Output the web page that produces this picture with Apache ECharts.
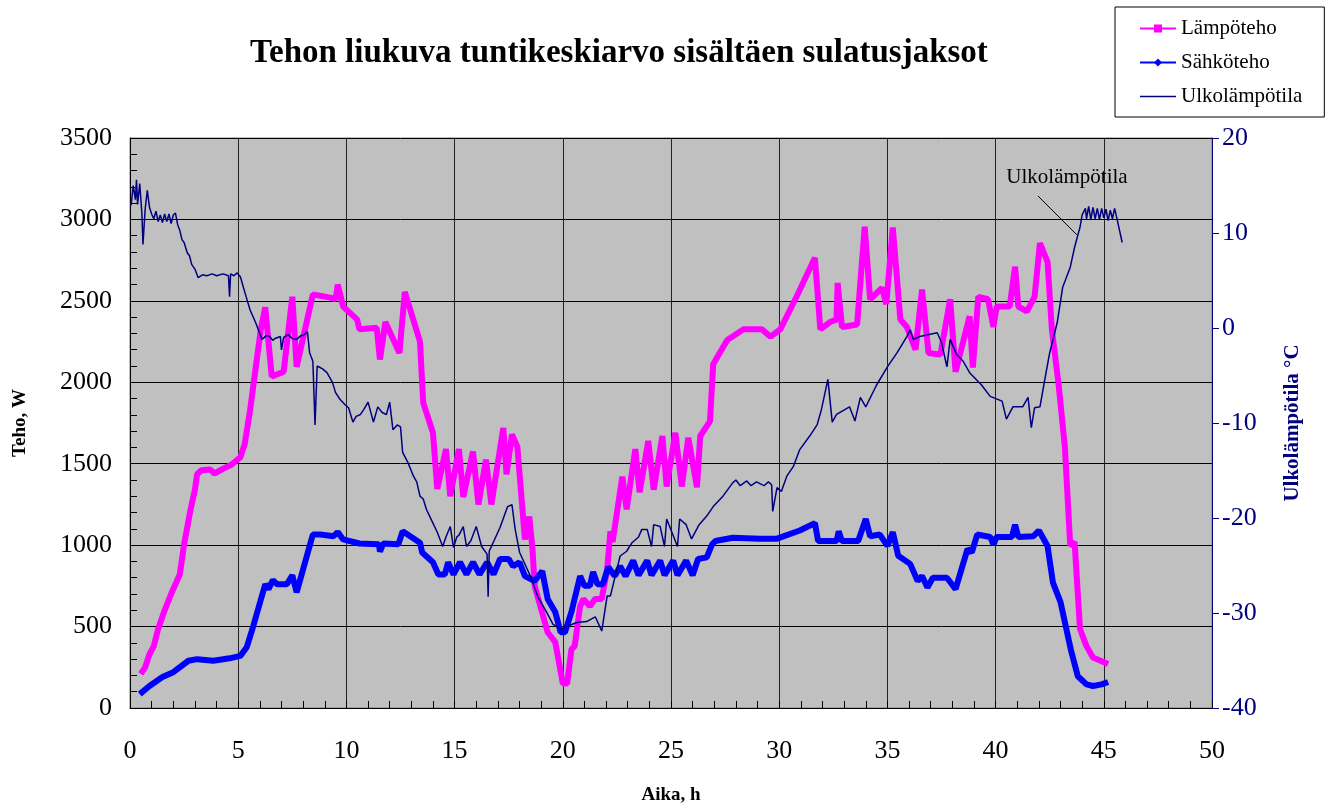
<!DOCTYPE html>
<html>
<head>
<meta charset="utf-8">
<script src="https://cdn.jsdelivr.net/npm/echarts@6/dist/echarts.min.js"></script>
<style>
  html, body { margin: 0; padding: 0; background: #fff; }
  #chart { width: 1338px; height: 810px; }
</style>
</head>
<body>
<div id="chart"></div>
<script>
// Lämpöteho (W) – hours / values
var heatHours = [0.5, 0.7, 0.9, 1.1, 1.3, 1.6, 1.9, 2.3, 2.5, 2.8, 3.0, 3.1, 3.3, 3.7, 3.9, 4.25, 4.7, 5.1, 5.3, 5.55, 5.8, 6.05, 6.25, 6.55, 7.1, 7.5, 7.7, 8.45, 9.25, 9.5, 9.6, 9.85, 10.5, 10.6, 11.4, 11.55, 11.8, 12.45, 12.7, 13.4, 13.55, 14.0, 14.2, 14.6, 14.8, 15.2, 15.4, 15.85, 16.1, 16.45, 16.7, 17.25, 17.4, 17.65, 17.9, 18.25, 18.45, 18.6, 18.7, 19.3, 19.65, 20.0, 20.2, 20.4, 20.55, 20.8, 20.95, 21.25, 21.5, 21.8, 22.05, 22.2, 22.3, 22.75, 22.95, 23.35, 23.55, 23.95, 24.2, 24.6, 24.8, 25.2, 25.5, 25.8, 26.2, 26.35, 26.8, 26.95, 27.6, 28.35, 29.2, 29.6, 30.05, 30.8, 31.65, 31.9, 32.35, 32.65, 32.7, 32.9, 33.6, 33.95, 34.2, 34.75, 34.95, 35.25, 35.6, 35.9, 36.3, 36.6, 36.9, 37.45, 37.9, 38.15, 38.8, 38.95, 39.2, 39.65, 39.9, 40.05, 40.65, 40.9, 41.05, 41.45, 41.8, 42.05, 42.4, 42.6, 42.9, 43.2, 43.45, 43.65, 43.9, 44.2, 44.5, 45.2];
var heatValues = [210, 250, 330, 380, 485, 600, 700, 820, 1005, 1220, 1340, 1435, 1460, 1465, 1440, 1465, 1495, 1540, 1620, 1830, 2080, 2330, 2460, 2035, 2065, 2525, 2095, 2540, 2520, 2510, 2600, 2465, 2385, 2325, 2335, 2140, 2370, 2180, 2555, 2250, 1875, 1690, 1345, 1590, 1300, 1590, 1295, 1575, 1250, 1525, 1250, 1720, 1435, 1680, 1605, 1035, 1175, 975, 750, 465, 405, 150, 150, 360, 380, 625, 670, 625, 670, 670, 850, 1085, 1020, 1420, 1220, 1590, 1325, 1640, 1340, 1670, 1360, 1690, 1360, 1660, 1355, 1670, 1760, 2110, 2260, 2325, 2325, 2280, 2325, 2525, 2765, 2325, 2370, 2385, 2610, 2340, 2355, 2955, 2510, 2580, 2480, 2950, 2385, 2340, 2200, 2570, 2180, 2170, 2510, 2065, 2405, 2090, 2525, 2510, 2340, 2465, 2465, 2710, 2465, 2435, 2525, 2855, 2740, 2325, 2000, 1605, 995, 1020, 485, 380, 310, 270];

// Sähköteho (W)
var elecHours = [0.45, 0.9, 1.5, 2.0, 2.7, 3.1, 3.85, 4.6, 5.1, 5.4, 5.7, 6.25, 6.4, 6.6, 6.8, 7.25, 7.5, 7.7, 8.45, 8.8, 9.4, 9.6, 9.85, 10.6, 11.5, 11.55, 11.7, 12.4, 12.6, 13.4, 13.5, 14.0, 14.25, 14.55, 14.7, 14.95, 15.25, 15.55, 15.85, 16.15, 16.5, 16.8, 17.1, 17.5, 17.7, 18.0, 18.25, 18.7, 19.05, 19.3, 19.65, 19.9, 20.1, 20.4, 20.8, 21.0, 21.25, 21.4, 21.6, 21.85, 22.1, 22.4, 22.65, 22.9, 23.25, 23.5, 23.9, 24.1, 24.5, 24.7, 25.1, 25.3, 25.7, 26.0, 26.25, 26.65, 26.9, 27.05, 27.85, 29.1, 29.9, 30.95, 31.65, 31.8, 32.65, 32.75, 32.9, 33.65, 34.0, 34.2, 34.65, 35.0, 35.25, 35.5, 36.05, 36.4, 36.6, 36.85, 37.1, 37.75, 38.15, 38.7, 38.9, 39.15, 39.75, 39.9, 40.05, 40.75, 40.9, 41.05, 41.75, 42.0, 42.4, 42.65, 43.0, 43.5, 43.8, 44.2, 44.5, 44.9, 45.2];
var elecValues = [85, 135, 190, 220, 290, 300, 290, 305, 320, 375, 505, 760, 730, 785, 760, 760, 815, 710, 1065, 1065, 1055, 1080, 1035, 1010, 1005, 960, 1010, 1005, 1085, 1015, 955, 895, 820, 820, 895, 820, 895, 820, 895, 820, 895, 820, 915, 915, 870, 895, 810, 780, 840, 670, 590, 465, 465, 590, 810, 750, 750, 835, 760, 760, 865, 810, 870, 810, 905, 815, 905, 815, 905, 815, 905, 815, 905, 815, 915, 925, 1005, 1025, 1045, 1040, 1040, 1090, 1135, 1025, 1025, 1085, 1025, 1025, 1160, 1055, 1065, 995, 1080, 935, 885, 780, 810, 740, 800, 800, 730, 975, 955, 1065, 1050, 1005, 1050, 1050, 1125, 1050, 1055, 1090, 995, 770, 650, 345, 195, 145, 135, 145, 160];

// Ulkolämpötila (°C)
var tempHours = [0.05, 0.15, 0.25, 0.3, 0.35, 0.45, 0.55, 0.6, 0.7, 0.8, 0.9, 1.0, 1.1, 1.2, 1.3, 1.4, 1.5, 1.6, 1.7, 1.8, 1.9, 2.0, 2.1, 2.2, 2.3, 2.4, 2.5, 2.65, 2.75, 2.85, 3.0, 3.15, 3.35, 3.55, 3.8, 4.0, 4.3, 4.55, 4.6, 4.65, 4.8, 4.95, 5.1, 5.3, 5.55, 5.8, 6.1, 6.3, 6.45, 6.6, 6.7, 6.95, 7.0, 7.1, 7.3, 7.5, 7.7, 7.9, 8.0, 8.2, 8.3, 8.45, 8.55, 8.65, 8.9, 9.1, 9.35, 9.5, 9.7, 9.95, 10.1, 10.3, 10.45, 10.65, 10.8, 11.0, 11.25, 11.45, 11.65, 11.85, 12.0, 12.15, 12.35, 12.5, 12.6, 12.85, 13.1, 13.25, 13.4, 13.55, 13.7, 13.95, 14.2, 14.45, 14.6, 14.8, 14.95, 15.1, 15.2, 15.4, 15.55, 15.75, 16.0, 16.25, 16.5, 16.55, 16.6, 16.7, 17.1, 17.45, 17.65, 17.8, 18.0, 18.5, 18.85, 19.25, 19.55, 19.95, 20.2, 20.65, 21.1, 21.5, 21.8, 22.05, 22.2, 22.65, 22.95, 23.2, 23.5, 23.65, 23.9, 24.1, 24.2, 24.5, 24.7, 24.8, 25.3, 25.4, 25.7, 25.95, 26.3, 26.65, 26.95, 27.4, 27.85, 28.0, 28.2, 28.5, 28.7, 28.95, 29.3, 29.5, 29.65, 29.7, 29.9, 30.1, 30.35, 30.65, 30.95, 31.4, 31.75, 31.95, 32.25, 32.45, 32.65, 33.25, 33.5, 33.75, 34.0, 34.5, 35.0, 35.45, 35.9, 36.05, 36.2, 36.5, 37.3, 37.5, 37.75, 37.9, 38.2, 38.5, 38.8, 39.35, 39.75, 40.3, 40.5, 40.8, 41.25, 41.5, 41.65, 41.8, 42.05, 42.3, 42.5, 42.85, 43.1, 43.45, 43.65, 43.9, 44.0, 44.15, 44.2, 44.3, 44.4, 44.5, 44.6, 44.7, 44.8, 44.9, 45.0, 45.1, 45.2, 45.3, 45.4, 45.5, 45.6, 45.85];
var tempValues = [12.9, 15.0, 13.5, 15.6, 13.0, 15.2, 12.0, 8.8, 12.5, 14.5, 12.7, 12.0, 11.5, 12.3, 11.2, 11.9, 11.1, 12.0, 11.2, 12.0, 11.0, 11.9, 12.1, 10.9, 10.3, 9.3, 9.0, 7.9, 7.6, 6.7, 6.2, 5.3, 5.6, 5.5, 5.7, 5.5, 5.7, 5.5, 3.3, 5.7, 5.5, 5.8, 5.4, 3.8, 1.9, 0.6, -1.2, -0.8, -0.9, -1.3, -1.1, -0.9, -2.3, -1.0, -0.7, -1.1, -1.2, -0.8, -0.8, -0.4, -2.6, -3.5, -10.2, -4.0, -4.3, -4.7, -5.7, -6.8, -7.5, -8.1, -8.4, -9.9, -9.3, -9.1, -8.6, -7.8, -9.9, -8.3, -8.9, -9.1, -7.8, -10.7, -10.2, -10.4, -13.1, -14.2, -15.6, -16.2, -17.7, -18.0, -19.1, -20.3, -21.5, -23.0, -22.0, -20.9, -23.1, -22.0, -21.8, -20.9, -23.0, -22.4, -20.9, -23.0, -23.8, -28.3, -23.5, -23.0, -21.0, -18.8, -18.6, -21.2, -23.6, -26.1, -28.3, -29.9, -31.2, -31.7, -31.4, -31.0, -30.9, -30.4, -31.9, -28.2, -28.2, -24.0, -23.5, -22.6, -22.0, -21.2, -21.2, -23.0, -20.7, -20.9, -23.0, -20.1, -23.0, -20.1, -20.7, -22.2, -20.7, -19.8, -18.8, -17.7, -16.3, -16.0, -16.6, -16.1, -16.6, -16.2, -16.6, -16.2, -16.5, -19.3, -16.8, -17.2, -15.6, -14.6, -12.8, -11.4, -10.2, -8.6, -5.4, -9.9, -9.1, -8.3, -9.8, -7.3, -8.3, -6.0, -4.1, -2.6, -0.9, -0.2, -1.2, -0.9, -0.5, -1.5, -4.1, -1.2, -2.8, -3.5, -4.7, -6.0, -7.2, -7.7, -9.6, -8.3, -8.3, -7.3, -10.5, -8.4, -8.3, -5.1, -2.6, 0.6, 4.3, 6.4, 8.5, 10.6, 11.9, 12.6, 11.5, 12.8, 11.4, 12.7, 11.5, 12.6, 11.4, 12.6, 11.6, 12.5, 11.3, 12.4, 11.5, 12.6, 11.6, 9.0];

function pairs(xs, ys) {
  return xs.map(function (x, i) { return [x, ys[i]]; });
}

var serif = "'Liberation Serif', 'Times New Roman', serif";
// plain line for the legend (bbox 36x10, thin stripe in the middle)
var lineIcon = "path://M0,0M36,10M0,4.2L36,4.2L36,5.8L0,5.8Z";
var chart = echarts.init(document.getElementById("chart"));

chart.setOption({
  animation: false,
  backgroundColor: "#fff",
  textStyle: { fontFamily: serif },
  title: {
    text: "Tehon liukuva tuntikeskiarvo sisältäen sulatusjaksot",
    left: 245,
    top: 32,
    textStyle: { fontFamily: serif, fontSize: 33, fontWeight: "bold", color: "#000" },
  },
  legend: {
    orient: "vertical",
    left: 1115,
    top: 7,
    width: 200,
    padding: [11, 22, 10, 24],
    itemGap: 13,
    itemWidth: 36,
    itemHeight: 10,
    backgroundColor: "#fff",
    borderColor: "#000",
    borderWidth: 1,
    textStyle: { fontFamily: serif, fontSize: 21, color: "#000" },
    data: ["Lämpöteho", "Sähköteho", { name: "Ulkolämpötila", icon: lineIcon }],
  },
  grid: {
    left: 130,
    right: 126,
    top: 138,
    bottom: 101,
    show: true,
    backgroundColor: "#C0C0C0",
    borderColor: "#808080",
    borderWidth: 1,
  },
  xAxis: {
    type: "value",
    min: 0,
    max: 50,
    interval: 5,
    name: "Aika, h",
    nameLocation: "middle",
    nameGap: 78,
    nameTextStyle: { fontFamily: serif, fontSize: 19, fontWeight: "bold", color: "#000" },
    axisLine: { lineStyle: { color: "#000", width: 1 } },
    axisTick: { inside: true, length: 7, lineStyle: { color: "#000" } },
    minorTick: { show: true, splitNumber: 5, length: 7, lineStyle: { color: "#000" } },
    axisLabel: { fontFamily: serif, fontSize: 26, color: "#000", margin: 30 },
    splitLine: { show: true, lineStyle: { color: "#222", width: 1 } },
  },
  yAxis: [
    {
      type: "value",
      min: 0,
      max: 3500,
      interval: 500,
      name: "Teho, W",
      nameLocation: "middle",
      nameGap: 100,
      nameTextStyle: { fontFamily: serif, fontSize: 19, fontWeight: "bold", color: "#000" },
      axisLine: { show: true, lineStyle: { color: "#000", width: 1 } },
      axisTick: { show: true, inside: true, length: 7, lineStyle: { color: "#000" } },
      minorTick: { show: true, splitNumber: 5, length: 7, lineStyle: { color: "#000" } },
      axisLabel: {
        fontFamily: serif,
        fontSize: 26,
        color: "#000",
        margin: 18,
        formatter: function (v) { return String(v); },
      },
      splitLine: { show: true, lineStyle: { color: "#000", width: 1 } },
    },
    {
      type: "value",
      min: -40,
      max: 20,
      interval: 10,
      position: "right",
      name: "Ulkolämpötila °C",
      nameLocation: "middle",
      nameGap: 70,
      nameRotate: 90,
      nameTextStyle: { fontFamily: serif, fontSize: 21, fontWeight: "bold", color: "#000080" },
      axisLine: { show: true, lineStyle: { color: "#000080", width: 1 } },
      axisTick: { show: true, inside: false, length: 7, lineStyle: { color: "#000080" } },
      axisLabel: { fontFamily: serif, fontSize: 26, color: "#000080", margin: 10 },
      splitLine: { show: false },
    },
  ],
  series: [
    {
      name: "Lämpöteho",
      type: "line",
      yAxisIndex: 0,
      data: pairs(heatHours, heatValues),
      symbol: "rect",
      symbolSize: 7,
      showSymbol: false,
      lineStyle: { color: "#FF00FF", width: 6 },
      itemStyle: { color: "#FF00FF" },
      z: 2,
    },
    {
      name: "Sähköteho",
      type: "line",
      yAxisIndex: 0,
      data: pairs(elecHours, elecValues),
      symbol: "diamond",
      symbolSize: 7,
      showSymbol: false,
      lineStyle: { color: "#0000FF", width: 6 },
      itemStyle: { color: "#0000FF" },
      z: 3,
    },
    {
      name: "Ulkolämpötila",
      type: "line",
      yAxisIndex: 1,
      data: pairs(tempHours, tempValues),
      symbol: "none",
      lineStyle: { color: "#000080", width: 1.5 },
      itemStyle: { color: "#000080" },
      z: 4,
      markLine: {
        silent: true,
        symbol: "none",
        label: { show: false },
        lineStyle: { color: "#000", width: 1, type: "solid" },
        data: [[{ coord: [41.96, 13.9] }, { coord: [43.76, 9.8] }]],
      },
      markPoint: {
        silent: true,
        symbol: "rect",
        symbolSize: 1,
        itemStyle: { color: "rgba(0,0,0,0)" },
        label: {
          show: true,
          position: "inside",
          formatter: "Ulkolämpötila",
          fontFamily: serif,
          fontSize: 21,
          color: "#000",
        },
        data: [{ coord: [43.3, 15.8] }],
      },
    },
  ],
});
</script>
</body>
</html>
